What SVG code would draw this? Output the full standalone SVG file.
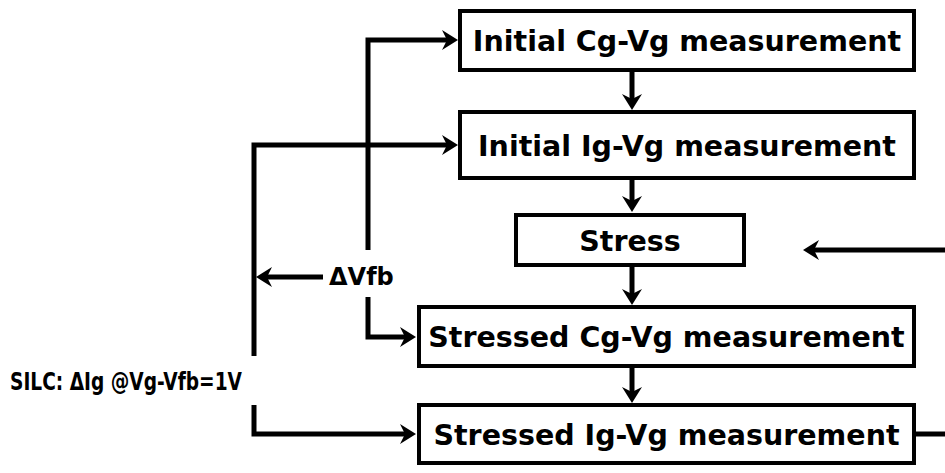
<svg xmlns="http://www.w3.org/2000/svg" width="945" height="473" viewBox="0 0 945 473">
<style>
.box{fill:#fff;stroke:#000;stroke-width:4}
.lbl{font-family:"DejaVu Sans","Liberation Sans",sans-serif;font-weight:bold;font-size:28.5px;fill:#000;text-anchor:middle}
.note{font-family:"DejaVu Sans","Liberation Sans",sans-serif;font-weight:bold;font-size:24px;fill:#000}
.con{fill:none;stroke:#000;stroke-width:5;stroke-linejoin:miter;stroke-linecap:butt}
</style>
<defs>
<marker id="ah" markerUnits="userSpaceOnUse" viewBox="-10 -12 22 24" markerWidth="22" markerHeight="24" refX="0" refY="0" orient="auto" overflow="visible">
<path d="M8,0 L-8,-10 L-3,0 L-8,10 Z" fill="#000"/>
</marker>
</defs>
<g id="connectors">
<path class="con" d="M632,72 V102" marker-end="url(#ah)"/>
<path class="con" d="M632,180 V204" marker-end="url(#ah)"/>
<path class="con" d="M632,267 V297" marker-end="url(#ah)"/>
<path class="con" d="M632,368 V395" marker-end="url(#ah)"/>
<path class="con" d="M368,250 V40 H450" marker-end="url(#ah)"/>
<path class="con" d="M368,297 V337 H408" marker-end="url(#ah)"/>
<path class="con" d="M254,356 V145 H450" marker-end="url(#ah)"/>
<path class="con" d="M254,405 V434 H408" marker-end="url(#ah)"/>
<path class="con" d="M323,277 H264" marker-end="url(#ah)"/>
<path class="con" d="M945,250 H811" marker-end="url(#ah)"/>
<path class="con" d="M916,434 H945"/>
</g>
<g id="n1"><rect class="box" x="460" y="11" width="454" height="59"/><text class="lbl" x="687" y="50.5">Initial Cg-Vg measurement</text></g>
<g id="n2"><rect class="box" x="460" y="112" width="454" height="66"/><text class="lbl" x="687" y="155.5">Initial Ig-Vg measurement</text></g>
<g id="n3"><rect class="box" x="516" y="215" width="228" height="50"/><text class="lbl" x="630" y="250.5">Stress</text></g>
<g id="n4"><rect class="box" x="419" y="307" width="495" height="59"/><text class="lbl" x="666.5" y="347">Stressed Cg-Vg measurement</text></g>
<g id="n5"><rect class="box" x="419" y="405" width="495" height="58"/><text class="lbl" x="666.5" y="444.5">Stressed Ig-Vg measurement</text></g>
<g id="l1"><text class="note" x="329" y="285">ΔVfb</text></g>
<g id="l2"><text class="note" x="10" y="390" font-size="26" textLength="232" lengthAdjust="spacingAndGlyphs">SILC: ΔIg @Vg-Vfb=1V</text></g>
</svg>
